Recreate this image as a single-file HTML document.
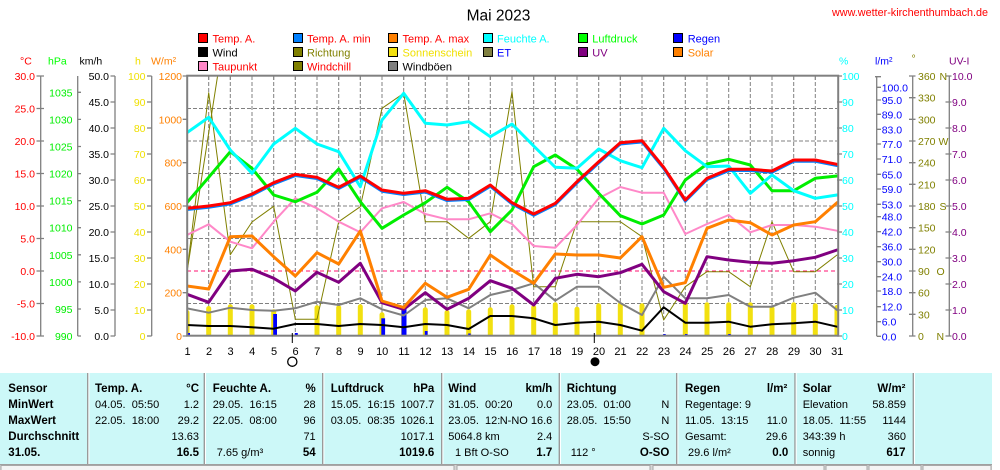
<!DOCTYPE html>
<html><head><meta charset="utf-8"><style>
html,body{margin:0;padding:0;background:#fff;}
svg{display:block;font-family:"Liberation Sans",Arial,sans-serif;}
.t{white-space:pre;}
</style></head><body>
<svg width="1000" height="470" viewBox="0 0 1000 470" xmlns="http://www.w3.org/2000/svg">
<defs><clipPath id="pc"><rect x="187" y="76" width="651" height="260"/></clipPath></defs>
<rect x="0" y="0" width="1000" height="470" fill="#fff"/>

<!-- title -->
<text x="498.5" y="20.7" font-size="15.5" text-anchor="middle" fill="#000">Mai 2023</text>
<text x="832" y="16" font-size="10.8" fill="#ff0000">www.wetter-kirchenthumbach.de</text>

<!-- legend -->
<g font-size="11" stroke="#000" stroke-width="1">
<rect x="198.5" y="33.5" width="9" height="9" fill="#ff0000"/>
<rect x="293.5" y="33.5" width="9" height="9" fill="#0080ff"/>
<rect x="388.5" y="33.5" width="9" height="9" fill="#ff8000"/>
<rect x="483.5" y="33.5" width="9" height="9" fill="#00ffff"/>
<rect x="578.5" y="33.5" width="9" height="9" fill="#00ff00"/>
<rect x="673.5" y="33.5" width="9" height="9" fill="#0000ff"/>
<rect x="198.5" y="47.5" width="9" height="9" fill="#000000"/>
<rect x="293.5" y="47.5" width="9" height="9" fill="#808000"/>
<rect x="388.5" y="47.5" width="9" height="9" fill="#f2e010"/>
<rect x="483.5" y="47.5" width="9" height="9" fill="#808040"/>
<rect x="578.5" y="47.5" width="9" height="9" fill="#800080"/>
<rect x="673.5" y="47.5" width="9" height="9" fill="#ff8000"/>
<rect x="198.5" y="61.5" width="9" height="9" fill="#ff88c8"/>
<rect x="293.5" y="61.5" width="9" height="9" fill="#808000"/>
<rect x="388.5" y="61.5" width="9" height="9" fill="#808080"/>
</g>
<g font-size="11">
<text x="212.5" y="42.3" fill="#ff0000">Temp. A.</text>
<text x="307" y="42.3" fill="#ff0000">Temp. A. min</text>
<text x="402.5" y="42.3" fill="#ff0000">Temp. A. max</text>
<text x="497" y="42.3" fill="#00ffff">Feuchte A.</text>
<text x="592.3" y="42.3" fill="#00ff00">Luftdruck</text>
<text x="687.7" y="42.3" fill="#0000ff">Regen</text>
<text x="212.5" y="56.3" fill="#000">Wind</text>
<text x="307" y="56.3" fill="#808000">Richtung</text>
<text x="402.5" y="56.3" fill="#f0e000">Sonnenschein</text>
<text x="497" y="56.3" fill="#0000ff">ET</text>
<text x="592.3" y="56.3" fill="#800080">UV</text>
<text x="687.7" y="56.3" fill="#ff8000">Solar</text>
<text x="212.5" y="70.3" fill="#ff0000">Taupunkt</text>
<text x="307" y="70.3" fill="#ff0000">Windchill</text>
<text x="402.5" y="70.3" fill="#000">Windböen</text>
</g>

<!-- axis unit headers -->
<g font-size="10.5">
<text x="20" y="64.5" fill="#ff0000">°C</text>
<text x="48" y="64.5" fill="#00ff00">hPa</text>
<text x="79.5" y="64.5" fill="#000">km/h</text>
<text x="135" y="64.5" fill="#f0e000">h</text>
<text x="151" y="64.5" fill="#ff8000">W/m²</text>
<text x="839" y="64.5" fill="#00ffff">%</text>
<text x="875" y="64.5" fill="#0000ff">l/m²</text>
<text x="911.5" y="62" fill="#808000">°</text>
<text x="949" y="64.5" fill="#800080">UV-I</text>
</g>

<!-- left axis lines -->
<g stroke="#808080" stroke-width="1.3" fill="none">
<line x1="40.7" y1="76" x2="40.7" y2="336"/>
<line x1="77.7" y1="76" x2="77.7" y2="336"/>
<line x1="115" y1="76" x2="115" y2="336"/>
<line x1="151.7" y1="76" x2="151.7" y2="336"/>
<line x1="876.7" y1="76" x2="876.7" y2="336"/>
<line x1="912.7" y1="76" x2="912.7" y2="336"/>
<line x1="949.3" y1="76" x2="949.3" y2="336"/>
<!-- ticks degC -->
<path d="M36.5 76H44M36.5 108.5H44M36.5 141H44M36.5 173.5H44M36.5 206H44M36.5 238.5H44M36.5 271H44M36.5 303.5H44M36.5 336H44"/>
<!-- hPa -->
<path d="M77.7 92.3H81M77.7 119.4H81M77.7 146.5H81M77.7 173.6H81M77.7 200.7H81M77.7 227.7H81M77.7 254.8H81M77.7 281.9H81M77.7 309H81M77.7 336H81"/>
<!-- km/h -->
<path d="M110.5 76H115M110.5 102H115M110.5 128H115M110.5 154H115M110.5 180H115M110.5 206H115M110.5 232H115M110.5 258H115M110.5 284H115M110.5 310H115M110.5 336H115"/>
<!-- h -->
<path d="M147 76H151.7M147 102H151.7M147 128H151.7M147 154H151.7M147 180H151.7M147 206H151.7M147 232H151.7M147 258H151.7M147 284H151.7M147 310H151.7M147 336H151.7"/>
<!-- W/m2 -->
<path d="M182.7 76H187M182.7 119.3H187M182.7 162.7H187M182.7 206H187M182.7 249.3H187M182.7 292.7H187M182.7 336H187"/>
<!-- % -->
<path d="M837 76H842M837 102H842M837 128H842M837 154H842M837 180H842M837 206H842M837 232H842M837 258H842M837 284H842M837 310H842M837 336H842"/>
<!-- l/m2 -->
<path d="M875 76.7H881M876.7 87.3H881M876.7 100H881M876.7 114.3H881M876.7 129.3H881M876.7 144H881M876.7 159H881M876.7 174.3H881M876.7 189H881M876.7 204.3H881M876.7 216.7H881M876.7 231.7H881M876.7 246.7H881M876.7 261.7H881M876.7 276.7H881M876.7 291H881M876.7 306.7H881M876.7 321.7H881M876.7 336.3H881"/>
<!-- deg -->
<path d="M909 76H915.5M909 97.7H915.5M909 119.3H915.5M909 141H915.5M909 162.7H915.5M909 184.3H915.5M909 206H915.5M909 227.7H915.5M909 249.3H915.5M909 271H915.5M909 292.7H915.5M909 314.3H915.5M909 336H915.5"/>
<!-- UV -->
<path d="M945.5 76H951.5M945.5 102H951.5M945.5 128H951.5M945.5 154H951.5M945.5 180H951.5M945.5 206H951.5M945.5 232H951.5M945.5 258H951.5M945.5 284H951.5M945.5 310H951.5M945.5 336H951.5"/>
</g>

<!-- left axis labels -->
<g font-size="10.5" text-anchor="end">
<g fill="#ff0000">
<text x="35" y="80">30.0</text><text x="35" y="112.5">25.0</text><text x="35" y="145">20.0</text><text x="35" y="177.5">15.0</text><text x="35" y="210">10.0</text><text x="35" y="242.5">5.0</text><text x="35" y="275">0.0</text><text x="35" y="307.5">-5.0</text><text x="35" y="340">-10.0</text>
</g>
<g fill="#00ee00">
<text x="72.5" y="96.3">1035</text><text x="72.5" y="123.4">1030</text><text x="72.5" y="150.5">1025</text><text x="72.5" y="177.6">1020</text><text x="72.5" y="204.7">1015</text><text x="72.5" y="231.7">1010</text><text x="72.5" y="258.8">1005</text><text x="72.5" y="285.9">1000</text><text x="72.5" y="313">995</text><text x="72.5" y="340">990</text>
</g>
<g fill="#000">
<text x="109" y="80">50.0</text><text x="109" y="106">45.0</text><text x="109" y="132">40.0</text><text x="109" y="158">35.0</text><text x="109" y="184">30.0</text><text x="109" y="210">25.0</text><text x="109" y="236">20.0</text><text x="109" y="262">15.0</text><text x="109" y="288">10.0</text><text x="109" y="314">5.0</text><text x="109" y="340">0.0</text>
</g>
<g fill="#f0e000">
<text x="145.5" y="80">100</text><text x="145.5" y="106">90</text><text x="145.5" y="132">80</text><text x="145.5" y="158">70</text><text x="145.5" y="184">60</text><text x="145.5" y="210">50</text><text x="145.5" y="236">40</text><text x="145.5" y="262">30</text><text x="145.5" y="288">20</text><text x="145.5" y="314">10</text><text x="145.5" y="340">0</text>
</g>
<g fill="#ff8000">
<text x="182" y="80">1200</text><text x="182" y="123.3">1000</text><text x="182" y="166.7">800</text><text x="182" y="210">600</text><text x="182" y="253.3">400</text><text x="182" y="296.7">200</text><text x="182" y="340">0</text>
</g>
</g>

<!-- right axis labels -->
<g font-size="10.5">
<g fill="#00ffff">
<text x="842" y="80">100</text><text x="842" y="106">90</text><text x="842" y="132">80</text><text x="842" y="158">70</text><text x="842" y="184">60</text><text x="842" y="210">50</text><text x="842" y="236">40</text><text x="842" y="262">30</text><text x="842" y="288">20</text><text x="842" y="314">10</text><text x="842" y="340">0</text>
</g>
<g fill="#0000ff">
<text x="881.7" y="91.3">100.0</text><text x="881.7" y="104">95.0</text><text x="881.7" y="118.3">89.0</text><text x="881.7" y="133.3">83.0</text><text x="881.7" y="148">77.0</text><text x="881.7" y="163">71.0</text><text x="881.7" y="178.3">65.0</text><text x="881.7" y="193">59.0</text><text x="881.7" y="208.3">53.0</text><text x="881.7" y="220.7">48.0</text><text x="881.7" y="235.7">42.0</text><text x="881.7" y="250.7">36.0</text><text x="881.7" y="265.7">30.0</text><text x="881.7" y="280.7">24.0</text><text x="881.7" y="295">18.0</text><text x="881.7" y="310.7">12.0</text><text x="881.7" y="325.7">6.0</text><text x="881.7" y="340.3">0.0</text>
</g>
<g fill="#808000">
<text x="918" y="80">360</text><text x="939.5" y="80">N</text>
<text x="918" y="101.7">330</text><text x="918" y="123.3">300</text>
<text x="918" y="145">270</text><text x="938.5" y="145">W</text>
<text x="918" y="166.7">240</text><text x="918" y="188.3">210</text>
<text x="918" y="210">180</text><text x="939.5" y="210">S</text>
<text x="918" y="231.7">150</text><text x="918" y="253.3">120</text>
<text x="918" y="275">90</text><text x="936.5" y="275">O</text>
<text x="918" y="296.7">60</text><text x="918" y="318.3">30</text>
<text x="918" y="340">0</text><text x="936.5" y="340">N</text>
</g>
<g fill="#800080">
<text x="952" y="80">10.0</text><text x="952" y="106">9.0</text><text x="952" y="132">8.0</text><text x="952" y="158">7.0</text><text x="952" y="184">6.0</text><text x="952" y="210">5.0</text><text x="952" y="236">4.0</text><text x="952" y="262">3.0</text><text x="952" y="288">2.0</text><text x="952" y="314">1.0</text><text x="952" y="340">0.0</text>
</g>
</g>

<!-- grid -->
<g stroke="#808080" stroke-width="1" stroke-dasharray="4,2" fill="none">
<path d="M187 108.5H837M187 141H837M187 173.5H837M187 206H837M187 238.5H837M187 303.5H837"/>
<path d="M208.7 76V336M230.3 76V336M252 76V336M273.7 76V336M295.3 76V336M317 76V336M338.7 76V336M360.3 76V336M382 76V336M403.7 76V336M425.3 76V336M447 76V336M468.7 76V336M490.3 76V336M512 76V336M533.7 76V336M555.3 76V336M577 76V336M598.7 76V336M620.3 76V336M642 76V336M663.7 76V336M685.3 76V336M707 76V336M728.7 76V336M750.3 76V336M772 76V336M793.7 76V336M815.3 76V336"/>
</g>
<line x1="187" y1="271" x2="837" y2="271" stroke="#ff1070" stroke-width="1" stroke-dasharray="4,3"/>

<g clip-path="url(#pc)">
<!-- sunshine bars -->
<g fill="#f2e010">
<rect x="184.5" y="310" width="5" height="30" rx="2.5"/>
<rect x="206.2" y="306" width="5" height="34" rx="2.5"/>
<rect x="227.8" y="304.3" width="5" height="36" rx="2.5"/>
<rect x="249.5" y="304.3" width="5" height="36" rx="2.5"/>
<rect x="271.2" y="309.3" width="5" height="31" rx="2.5"/>
<rect x="314.5" y="305.3" width="5" height="35" rx="2.5"/>
<rect x="336.2" y="305.3" width="5" height="35" rx="2.5"/>
<rect x="357.8" y="304.3" width="5" height="36" rx="2.5"/>
<rect x="379.5" y="312.3" width="5" height="28" rx="2.5"/>
<rect x="401.2" y="306" width="5" height="34" rx="2.5"/>
<rect x="422.8" y="307.3" width="5" height="33" rx="2.5"/>
<rect x="444.5" y="310" width="5" height="30" rx="2.5"/>
<rect x="466.2" y="309.3" width="5" height="31" rx="2.5"/>
<rect x="487.8" y="307.3" width="5" height="33" rx="2.5"/>
<rect x="509.5" y="304.3" width="5" height="36" rx="2.5"/>
<rect x="531.2" y="305" width="5" height="35" rx="2.5"/>
<rect x="552.8" y="302.3" width="5" height="38" rx="2.5"/>
<rect x="574.5" y="306.7" width="5" height="34" rx="2.5"/>
<rect x="596.2" y="303.3" width="5" height="37" rx="2.5"/>
<rect x="617.8" y="302.3" width="5" height="38" rx="2.5"/>
<rect x="639.5" y="303.3" width="5" height="37" rx="2.5"/>
<rect x="682.8" y="302.3" width="5" height="38" rx="2.5"/>
<rect x="704.5" y="302.3" width="5" height="38" rx="2.5"/>
<rect x="726.2" y="302.3" width="5" height="38" rx="2.5"/>
<rect x="747.8" y="302.3" width="5" height="38" rx="2.5"/>
<rect x="769.5" y="306" width="5" height="34" rx="2.5"/>
<rect x="791.2" y="302.3" width="5" height="38" rx="2.5"/>
<rect x="812.8" y="303.3" width="5" height="37" rx="2.5"/>
<rect x="834.5" y="305" width="5" height="35" rx="2.5"/>
</g>
<!-- rain bars -->
<g fill="#0000ff">
<rect x="187" y="333" width="3" height="3"/>
<rect x="273.2" y="314" width="3.8" height="22"/>
<rect x="294.8" y="333" width="3" height="3"/>
<rect x="381.3" y="318.3" width="3.8" height="18"/>
<rect x="401.5" y="307.3" width="5" height="29"/>
<rect x="424.8" y="331" width="2.8" height="5"/>
<rect x="468.2" y="333.5" width="2.5" height="2.5"/>
<rect x="663.2" y="334" width="2.5" height="2"/>
<rect x="685" y="334" width="2.5" height="2"/>
<rect x="728.2" y="334" width="2.5" height="2"/>
</g>

<g fill="none" stroke-linejoin="round" stroke-linecap="round">
<!-- olive direction lines -->
<polyline stroke="#808000" stroke-width="1" points="187,272 208.7,92.7 230.3,254.7 252,222 273.7,206.3 295.3,319.3 317,319.3 338.7,221.7 360.3,206.7 382,108.3 403.7,93.3 425.3,221.7 447,221.7 468.7,238.3 490.3,221.7 512,91.7 533.7,286.7 555.3,286.7 577,221.7 598.7,221.7 620.3,221.7 642,236.7 663.7,320 685.3,286.7 707,271.7 728.7,271.7 750.3,286.7 772,221.7 793.7,271.7 815.3,271.7 837,255"/>
<polyline stroke="#808000" stroke-width="1" points="187,272 218.5,70"/>
<!-- gray gusts -->
<polyline stroke="#808080" stroke-width="2" points="187,308.3 208.7,312.7 230.3,307.7 252,310 273.7,310.7 295.3,308.3 317,301.7 338.7,305 360.3,298.3 382,309.3 403.7,315.5 425.3,300 447,298.3 468.7,308.3 490.3,295 512,290 533.7,283.3 555.3,300.7 577,286.7 598.7,286.7 620.3,303 642,315 663.7,276.7 685.3,298.3 707,298.3 728.7,295 750.3,306.7 772,306.7 793.7,297.7 815.3,292.7 837,310"/>
<!-- black wind -->
<polyline stroke="#000" stroke-width="2" points="187,325 208.7,326 230.3,326 252,327.3 273.7,328.7 295.3,324 317,324 338.7,326 360.3,324 382,325 403.7,327.3 425.3,324 447,325 468.7,329 490.3,316 512,316 533.7,318.3 555.3,325 577,322.7 598.7,321.7 620.3,325 642,330.7 663.7,307.3 685.3,322.7 707,322.7 728.7,321.7 750.3,326.7 772,324.3 793.7,323.3 815.3,321.7 837,326.7"/>
<!-- pink dewpoint -->
<polyline stroke="#ff88c8" stroke-width="2" points="187,235 208.7,224.3 230.3,241.7 252,248.3 273.7,221.7 295.3,198.3 317,208.3 338.7,221.7 360.3,232.3 382,208.3 403.7,202 425.3,214 447,219.3 468.7,219.3 490.3,213.3 512,224 533.7,246 555.3,247.7 577,225 598.7,198.3 620.3,187 642,192.7 663.7,192.7 685.3,234 707,224 728.7,215 750.3,232.3 772,225 793.7,225 815.3,226.7 837,230.7"/>
<!-- purple UV -->
<polyline stroke="#800080" stroke-width="3" points="187,294.3 208.7,302.3 230.3,271 252,269.3 273.7,278.3 295.3,291 317,272.3 338.7,282.3 360.3,263.3 382,302.7 403.7,309.3 425.3,292.7 447,309.3 468.7,298.3 490.3,280.7 512,288.3 533.7,305 555.3,278.3 577,274.3 598.7,276.7 620.3,272.7 642,264.3 663.7,291.7 685.3,303.3 707,256.7 728.7,260 750.3,262.3 772,263.3 793.7,260.7 815.3,257.3 837,250"/>
<!-- orange solar -->
<polyline stroke="#ff8000" stroke-width="3" points="187,286 208.7,289 230.3,236.7 252,236 273.7,256.7 295.3,276 317,252.7 338.7,264 360.3,231 382,301 403.7,307.5 425.3,283.3 447,297.3 468.7,289.3 490.3,255 512,270 533.7,283.3 555.3,254 577,255 598.7,255 620.3,258 642,236.7 663.7,287.3 685.3,282.7 707,228.3 728.7,220 750.3,222.7 772,235 793.7,225 815.3,221.7 837,202.7"/>
<!-- green pressure -->
<polyline stroke="#00ee00" stroke-width="3" points="187,202.7 208.7,177.3 230.3,151.7 252,168.3 273.7,195 295.3,201.7 317,192.3 338.7,169 360.3,201.7 382,228.3 403.7,215 425.3,202.7 447,187.3 468.7,201.7 490.3,231.7 512,210 533.7,166.7 555.3,155 577,169.3 598.7,193.3 620.3,215.7 642,224 663.7,215 685.3,180 707,164 728.7,159.3 750.3,165 772,190.7 793.7,190.7 815.3,178.3 837,176"/>
<!-- cyan humidity -->
<polyline stroke="#00ffff" stroke-width="3" points="187,132.7 208.7,117.3 230.3,150 252,173.3 273.7,144 295.3,128.3 317,144 338.7,151.7 360.3,186.7 382,120 403.7,93.3 425.3,123.3 447,125 468.7,121.7 490.3,136.7 512,124 533.7,146 555.3,167.3 577,168.3 598.7,149 620.3,160.7 642,167.7 663.7,128.3 685.3,150.7 707,166.7 728.7,166 750.3,193.3 772,175 793.7,190.7 815.3,198.3 837,195"/>
<!-- temp min (blue) -->
<polyline stroke="#0080ff" stroke-width="2.5" transform="translate(0,1.5)" points="187,208.3 208.7,206 230.3,202.7 252,194 273.7,182.7 295.3,174.3 317,177.3 338.7,187.3 360.3,176 382,190 403.7,193.3 425.3,190.7 447,199.3 468.7,198.3 490.3,185 512,202.7 533.7,214 555.3,203.3 577,181.7 598.7,161.7 620.3,142.7 642,140.7 663.7,167.3 685.3,200 707,178.3 728.7,169.3 750.3,169.3 772,171 793.7,160 815.3,160 837,164.3"/>
<!-- temp (red) -->
<polyline stroke="#ff0000" stroke-width="3" points="187,208.3 208.7,206 230.3,202.7 252,194 273.7,182.7 295.3,174.3 317,177.3 338.7,187.3 360.3,176 382,190 403.7,193.3 425.3,190.7 447,199.3 468.7,198.3 490.3,185 512,202.7 533.7,214 555.3,203.3 577,181.7 598.7,161.7 620.3,142.7 642,140.7 663.7,167.3 685.3,200 707,178.3 728.7,169.3 750.3,169.3 772,171 793.7,160 815.3,160 837,164.3"/>
</g>
</g>

<!-- plot frame -->
<rect x="187.2" y="75.7" width="651" height="260" fill="none" stroke="#808080" stroke-width="2"/>
<!-- top ticks -->
<path stroke="#808080" stroke-width="1" fill="none" d="M208.7 76V80M230.3 76V80M252 76V80M273.7 76V80M295.3 76V80M317 76V80M338.7 76V80M360.3 76V80M382 76V80M403.7 76V80M425.3 76V80M447 76V80M468.7 76V80M490.3 76V80M512 76V80M533.7 76V80M555.3 76V80M577 76V80M598.7 76V80M620.3 76V80M642 76V80M663.7 76V80M685.3 76V80M707 76V80M728.7 76V80M750.3 76V80M772 76V80M793.7 76V80M815.3 76V80"/>
<!-- moon ticks -->
<path stroke="#000" stroke-width="1" d="M292.3 333V343M594.3 333V343"/>
<circle cx="292.3" cy="361.7" r="4.6" fill="none" stroke="#000" stroke-width="1.3"/>
<circle cx="595" cy="361.7" r="4.5" fill="#000"/>

<!-- day labels -->
<g font-size="11" text-anchor="middle" fill="#000">
<text x="187.5" y="355">1</text><text x="209" y="355">2</text><text x="230.5" y="355">3</text><text x="252.2" y="355">4</text><text x="274" y="355">5</text><text x="295.5" y="355">6</text><text x="317.2" y="355">7</text><text x="339" y="355">8</text><text x="360.5" y="355">9</text><text x="382.2" y="355">10</text><text x="404" y="355">11</text><text x="425.5" y="355">12</text><text x="447.2" y="355">13</text><text x="469" y="355">14</text><text x="490.5" y="355">15</text><text x="512.2" y="355">16</text><text x="534" y="355">17</text><text x="555.5" y="355">18</text><text x="577.2" y="355">19</text><text x="599" y="355">20</text><text x="620.5" y="355">21</text><text x="642.2" y="355">22</text><text x="664" y="355">23</text><text x="685.5" y="355">24</text><text x="707.2" y="355">25</text><text x="729" y="355">26</text><text x="750.5" y="355">27</text><text x="772.2" y="355">28</text><text x="794" y="355">29</text><text x="815.5" y="355">30</text><text x="837.2" y="355">31</text>
</g>

<!-- table -->
<rect x="0" y="373" width="992" height="91" fill="#ccf8f8"/>
<g>
<rect x="87" y="373" width="1.4" height="91" fill="#9a9a9a"/><rect x="88.4" y="373" width="1" height="91" fill="#fff"/>
<rect x="203.6" y="373" width="1.4" height="91" fill="#9a9a9a"/><rect x="205" y="373" width="1" height="91" fill="#fff"/>
<rect x="322" y="373" width="1.4" height="91" fill="#9a9a9a"/><rect x="323.4" y="373" width="1" height="91" fill="#fff"/>
<rect x="441" y="373" width="1.4" height="91" fill="#9a9a9a"/><rect x="442.4" y="373" width="1" height="91" fill="#fff"/>
<rect x="558.6" y="373" width="1.4" height="91" fill="#9a9a9a"/><rect x="560" y="373" width="1" height="91" fill="#fff"/>
<rect x="676" y="373" width="1.4" height="91" fill="#9a9a9a"/><rect x="677.4" y="373" width="1" height="91" fill="#fff"/>
<rect x="794.3" y="373" width="1.4" height="91" fill="#9a9a9a"/><rect x="795.7" y="373" width="1" height="91" fill="#fff"/>
<rect x="912.6" y="373" width="1.4" height="91" fill="#9a9a9a"/><rect x="914" y="373" width="1" height="91" fill="#fff"/>
</g>
<!-- bottom status strip -->
<rect x="0" y="464" width="992" height="6" fill="#d6d6d6"/>
<rect x="0" y="464" width="992" height="1" fill="#a0a0a0"/>
<rect x="1" y="465.5" width="453" height="5" fill="#f4f4f4" stroke="#a8a8a8" stroke-width="1"/>
<rect x="457" y="465.5" width="193" height="5" fill="#f4f4f4" stroke="#a8a8a8" stroke-width="1"/>
<rect x="653" y="465.5" width="171" height="5" fill="#f4f4f4" stroke="#a8a8a8" stroke-width="1"/>
<rect x="826" y="465.5" width="41" height="5" fill="#f4f4f4" stroke="#a8a8a8" stroke-width="1"/>
<rect x="869" y="465.5" width="52" height="5" fill="#f4f4f4" stroke="#a8a8a8" stroke-width="1"/>
<rect x="923" y="465.5" width="68" height="5" fill="#f4f4f4" stroke="#a8a8a8" stroke-width="1"/>

<g fill="#000" class="t">
<g font-size="11.5" font-weight="bold">
<text x="8.3" y="392">Sensor</text>
<text x="8.3" y="408">MinWert</text>
<text x="8.3" y="424">MaxWert</text>
<text x="8.3" y="440">Durchschnitt</text>
<text x="8.3" y="456">31.05.</text>
<text x="95" y="392">Temp. A.</text><text x="199" y="392" text-anchor="end">°C</text>
<text x="212.7" y="392">Feuchte A.</text><text x="315.7" y="392" text-anchor="end">%</text>
<text x="330.7" y="392">Luftdruck</text><text x="434.3" y="392" text-anchor="end">hPa</text>
<text x="448.3" y="392">Wind</text><text x="552.3" y="392" text-anchor="end">km/h</text>
<text x="566.7" y="392">Richtung</text>
<text x="685" y="392">Regen</text><text x="787.3" y="392" text-anchor="end">l/m²</text>
<text x="802.7" y="392">Solar</text><text x="905.5" y="392" text-anchor="end">W/m²</text>
<text x="199" y="456" text-anchor="end">16.5</text>
<text x="315.7" y="456" text-anchor="end">54</text>
<text x="434.3" y="456" text-anchor="end">1019.6</text>
<text x="552.3" y="456" text-anchor="end">1.7</text>
<text x="669.3" y="456" text-anchor="end">O-SO</text>
<text x="788.3" y="456" text-anchor="end">0.0</text>
<text x="905.5" y="456" text-anchor="end">617</text>
</g>
<g font-size="11" class="t">
<text x="95" y="408" class="t">04.05.  05:50</text><text x="199" y="408" text-anchor="end">1.2</text>
<text x="95" y="424" class="t">22.05.  18:00</text><text x="199" y="424" text-anchor="end">29.2</text>
<text x="199" y="440" text-anchor="end">13.63</text>
<text x="212.7" y="408" class="t">29.05.  16:15</text><text x="315.7" y="408" text-anchor="end">28</text>
<text x="212.7" y="424" class="t">22.05.  08:00</text><text x="315.7" y="424" text-anchor="end">96</text>
<text x="315.7" y="440" text-anchor="end">71</text>
<text x="216.7" y="456">7.65 g/m³</text>
<text x="330.7" y="408" class="t">15.05.  16:15</text><text x="434.3" y="408" text-anchor="end">1007.7</text>
<text x="330.7" y="424" class="t">03.05.  08:35</text><text x="434.3" y="424" text-anchor="end">1026.1</text>
<text x="434.3" y="440" text-anchor="end">1017.1</text>
<text x="448.3" y="408" class="t">31.05.  00:20</text><text x="552.3" y="408" text-anchor="end">0.0</text>
<text x="448.3" y="424" class="t">23.05.  12:</text><text x="552.3" y="424" text-anchor="end">N-NO 16.6</text>
<text x="448.3" y="440">5064.8 km</text><text x="552.3" y="440" text-anchor="end">2.4</text>
<text x="455" y="456">1 Bft O-SO</text>
<text x="566.7" y="408" class="t">23.05.  01:00</text><text x="669.3" y="408" text-anchor="end">N</text>
<text x="566.7" y="424" class="t">28.05.  15:50</text><text x="669.3" y="424" text-anchor="end">N</text>
<text x="669.3" y="440" text-anchor="end">S-SO</text>
<text x="570.7" y="456">112 °</text>
<text x="685" y="408">Regentage: 9</text>
<text x="685" y="424" class="t">11.05.  13:15</text><text x="787.3" y="424" text-anchor="end">11.0</text>
<text x="685" y="440">Gesamt:</text><text x="787.3" y="440" text-anchor="end">29.6</text>
<text x="688" y="456">29.6 l/m²</text>
<text x="802.7" y="408">Elevation</text><text x="906" y="408" text-anchor="end">58.859</text>
<text x="802.7" y="424" class="t">18.05.  11:55</text><text x="906" y="424" text-anchor="end">1144</text>
<text x="802.7" y="440">343:39 h</text><text x="906" y="440" text-anchor="end">360</text>
<text x="802.7" y="456">sonnig</text>
</g>
</g>
</svg>
</body></html>
